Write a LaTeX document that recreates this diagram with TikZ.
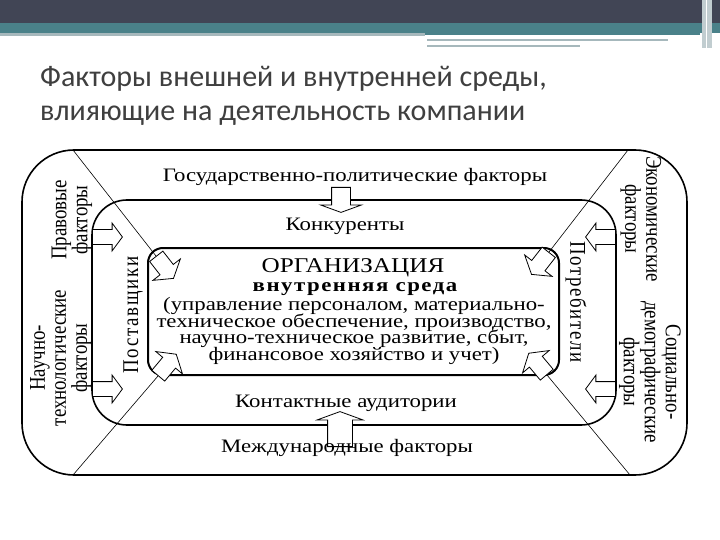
\documentclass[tikz,border=0pt]{standalone}
\usepackage{fontspec}
\setmainfont{Liberation Serif}[FakeStretch=1.2]
\newfontfamily\rotfont{Liberation Serif}[FakeStretch=0.84]
\newfontfamily\titlefont{Carlito}
\usetikzlibrary{shapes.arrows}
\definecolor{hdark}{HTML}{414555}
\definecolor{hteal}{HTML}{4A8189}
\definecolor{hgray}{HTML}{A6B8BC}
\definecolor{titlegray}{HTML}{3F3F3F}
\tikzset{
  frame/.style={draw=black, line width=1.6pt},
  lbl/.style={font=\fontsize{19}{21}\selectfont, inner sep=0pt, align=center},
  rlbl/.style={font=\rotfont\fontsize{22.5}{21}\selectfont, inner sep=0pt, align=center},
  blockarrow/.style={single arrow, draw=black, fill=white, line width=0.8pt,
    inner xsep=0pt, inner ysep=0pt, minimum width=0pt, anchor=tail},
  cornerarrow/.style={blockarrow, minimum height=28pt, single arrow head extend=9pt, single arrow tip angle=115},
  sidearrow/.style={blockarrow, minimum height=30pt, single arrow head extend=6.5pt, single arrow tip angle=107},
  diag/.style={draw=black, line width=0.6pt}
}
\begin{document}
\begin{tikzpicture}[x=1pt,y=-1pt]
\useasboundingbox (0,0) rectangle (720,540);
\fill[white] (0,0) rectangle (720,540);
% header
\fill[hdark] (0,0) rectangle (720,23);
\fill[hteal] (0,23) rectangle (720,33);
\fill[hgray] (0,33) rectangle (425,36);
\fill[hteal] (425,33) rectangle (700,35);
\draw[hgray, line width=1.5pt] (427,40) -- (668,40);
\draw[hgray, line width=2pt] (427,46) -- (580,46);
\fill[hgray!70] (702,0) rectangle (712,48);
\draw[white, line width=0.8pt] (706,0) -- (706,48);
% title
\node[anchor=base west, inner sep=0pt, text=titlegray, font=\titlefont\fontsize{30}{32}\selectfont] (t1) at (40,87) {Факторы внешней и внутренней среды,};
\node[anchor=base west, inner sep=0pt, text=titlegray, font=\titlefont\fontsize{30}{32}\selectfont] (t2) at (40,121) {влияющие на деятельность компании};
% frames
\draw[frame] (22,150) [rounded corners=52pt] rectangle (687,475);
\draw[frame] (92,200) [rounded corners=35pt] rectangle (616,425);
\draw[frame, line width=2pt] (148,248) [rounded corners=15pt] rectangle (559,375);
% corner connectors and arrows
\coordinate (tlc) at (73,150);
\coordinate (trc) at (628,150);
\coordinate (blc) at (73,475);
\coordinate (brc) at (630,475);
\node[cornerarrow, rotate=-52] (atl) at (156,256) {\rule{0pt}{16pt}};
\node[cornerarrow, rotate=-128] (atr) at (549,252) {\rule{0pt}{16pt}};
\node[cornerarrow, rotate=50] (abl) at (158,376) {\rule{0pt}{16pt}};
\node[cornerarrow, rotate=130] (abr) at (547,375) {\rule{0pt}{16pt}};
\draw[diag] (tlc) -- (atl.tail);
\draw[diag] (trc) -- (atr.tail);
\draw[diag] (blc) -- (abl.tail);
\draw[diag] (brc) -- (abr.tail);
% side arrows
\node[sidearrow] (al1) at (92,237) {\rule{0pt}{14pt}};
\node[sidearrow] (al2) at (92,389) {\rule{0pt}{14pt}};
\node[sidearrow, rotate=180] (ar1) at (616,237) {\rule{0pt}{14pt}};
\node[sidearrow, rotate=180] (ar2) at (616,389) {\rule{0pt}{14pt}};
\node[blockarrow, rotate=-90, minimum height=25pt, single arrow head extend=11pt, single arrow tip angle=140] (atop) at (341,187) {\rule{0pt}{18pt}};
\node[blockarrow, rotate=90, minimum height=35pt, single arrow head extend=10.5pt, single arrow tip angle=140] (abot) at (340,447) {\rule{0pt}{24pt}};
% texts
\node[lbl] (gos) at (355,177) {Государственно-политические факторы};
\node[lbl] (konk) at (345,226) {Конкуренты};
\node[lbl, font=\fontsize{21}{23}\selectfont] (orgt) at (353,268) {ОРГАНИЗАЦИЯ};
\node[lbl, font=\bfseries\addfontfeature{LetterSpace=8}\fontsize{19}{21}\selectfont] (vnut) at (355,289) {внутренняя среда};
\node[lbl, font={\fontsize{19}{16.7}\selectfont\lineskiplimit=-20pt\relax}, anchor=north] (body) at (354,297) {(управление персоналом, материально-\\техническое обеспечение, производство,\\научно-техническое развитие, сбыт,\\финансовое хозяйство и учет)};
\node[lbl] (kont) at (346,403) {Контактные аудитории};
\node[lbl] (mezh) at (347,448) {Международные факторы};
\node[rlbl, rotate=90] (prav) at (72,220) {Правовые\\факторы};
\node[rlbl, rotate=90] (nauch) at (61,358) {Научно-\\технологические\\факторы};
\node[rlbl, rotate=90, font=\rotfont\addfontfeature{LetterSpace=8}\fontsize{22.5}{21}\selectfont] (post) at (133,315) {Поставщики};
\node[rlbl, rotate=-90, font=\rotfont\addfontfeature{LetterSpace=7}\fontsize{22.5}{21}\selectfont] (potr) at (576,302) {Потребители};
\node[rlbl, rotate=-90] (econ) at (641,219) {Экономические\\факторы};
\node[rlbl, rotate=-90] (soc) at (650,372) {Социально-\\демографические\\факторы};
\end{tikzpicture}
\end{document}
